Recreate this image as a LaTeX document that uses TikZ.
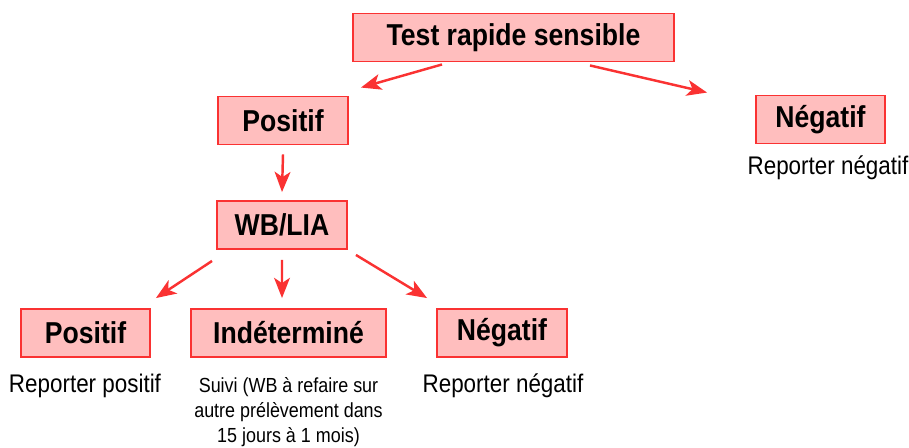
\documentclass[tikz,border=0pt]{standalone}
\usepackage{fontspec}
\setmainfont{Liberation Sans}[FakeStretch=0.88]
\usetikzlibrary{arrows.meta}
\definecolor{boxred}{RGB}{250,50,50}
\definecolor{boxpink}{RGB}{255,190,190}
\begin{document}
\begin{tikzpicture}%
	[x=0.02cm,
	y=-0.02cm,
	box/.style={draw=boxred, fill=boxpink, line width=1.1pt, inner sep=0pt,
		minimum height=0.96cm, font=\fontsize{17.2}{20}\selectfont\bfseries},
	note/.style={inner sep=0pt, align=center, font=\fontsize{14.5}{16}\selectfont},
	small/.style={inner sep=0pt, align=center, font=\fontsize{11.6}{14.2}\selectfont},
	arr/.style={draw=boxred, line width=1.4pt, -{Stealth[length=11.5pt, width=9pt, inset=3pt]}}]
%
\useasboundingbox (0,0) rectangle (909,447);
%%
%% Boxes
%%
\node[box, minimum width=6.42cm] (test) at (513.5,37.5) {Test rapide sensible};
\node[box, minimum width=2.6cm] (pos1) at (283,120.5) {Positif};
\node[box, minimum width=2.58cm] (neg1) at (820.5,119.5) {Négatif};
\node[box, minimum width=2.6cm] (wb) at (282,225) {WB/LIA};
\node[box, minimum width=2.58cm] (pos2) at (85.5,333) {Positif};
\node[box, minimum width=3.9cm] (ind) at (288.5,333) {Indéterminé};
\node[box, minimum width=2.6cm] (neg2) at (502,333) {Négatif};
%%
%% Texts below the boxes
%%
\node[note] (repneg1) at (828,168) {Reporter négatif};
\node[note] (reppos2) at (85,386) {Reporter positif};
\node[note] (repneg2) at (503,386) {Reporter négatif};
\node[small] (suivi) at (288.5,412) {Suivi (WB à refaire sur\\autre prélèvement dans\\15 jours à 1 mois)};
%%
%% Arrows
%%
\draw[arr] ([xshift=-1.43cm, yshift=-0.04cm]test.south) -- ([xshift=0.24cm, yshift=0.16cm]pos1.north east);
\draw[arr] ([xshift=1.53cm, yshift=-0.06cm]test.south) -- ([xshift=-0.96cm, yshift=0.04cm]neg1.north west);
\draw[arr] ([yshift=-0.18cm]pos1.south) -- ([yshift=0.16cm]wb.north);
\draw[arr] ([xshift=-1.4cm, yshift=-0.22cm]wb.south) -- ([xshift=0.1cm, yshift=0.2cm]pos2.north east);
\draw[arr] ([yshift=-0.2cm]wb.south) -- ([xshift=-0.13cm, yshift=0.2cm]ind.north);
\draw[arr] ([xshift=0.16cm, yshift=-0.1cm]wb.south east) -- ([xshift=-0.18cm, yshift=0.2cm]neg2.north west);
%%
\end{tikzpicture}
\end{document}
